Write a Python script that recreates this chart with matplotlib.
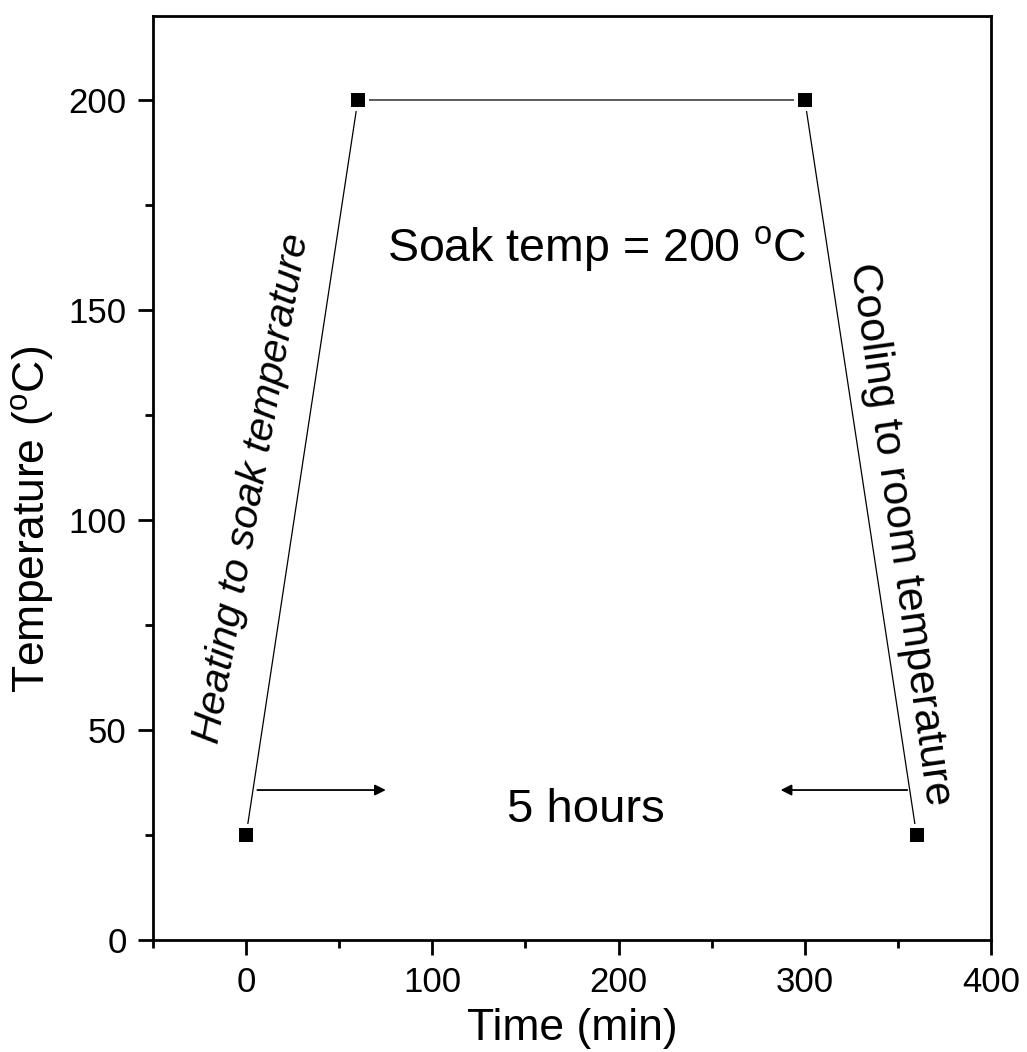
import numpy as np
import matplotlib.pyplot as plt
from matplotlib.ticker import MultipleLocator

plt.rcParams['font.family'] = ['Liberation Sans', 'DejaVu Sans']
plt.rcParams['mathtext.fontset'] = 'custom'
plt.rcParams['mathtext.rm'] = 'Liberation Sans'
plt.rcParams['mathtext.it'] = 'Liberation Sans:italic'

# Heat treatment profile
time_min = [0, 60, 300, 360]
temp_c = [25, 200, 200, 25]

x_ticks = [0, 100, 200, 300, 400]
y_ticks = [0, 50, 100, 150, 200]

fig = plt.figure(figsize=(10.27, 10.52), dpi=100)
ax = fig.add_axes([0.149, 0.1065, 0.816, 0.8783])

# line with small gap around the square markers (Origin style)
ax.plot(time_min, temp_c, color='black', lw=0.9, zorder=2)
ax.plot(time_min, temp_c, ls='none', marker='s', ms=13, mfc='black',
        mec='white', mew=2.9, zorder=3)

# annotations
ax.annotate('', xy=(75, 35.7), xytext=(6, 35.7),
            arrowprops=dict(arrowstyle='-|>', color='black', lw=1.3,
                            mutation_scale=16, shrinkA=0, shrinkB=0))
ax.annotate('', xy=(287, 35.7), xytext=(355, 35.7),
            arrowprops=dict(arrowstyle='-|>', color='black', lw=1.3,
                            mutation_scale=16, shrinkA=0, shrinkB=0))
ax.text(182.5, 31.0, '5 hours', fontsize=34, ha='center', va='center')
ax.text(188.5, 164.5, r'Soak temp = 200 $^{\rm o}$C', fontsize=33.5,
        ha='center', va='center')
ax.text(3, 107.5, 'Heating to soak temperature', fontsize=29.5, style='italic',
        rotation=80, ha='center', va='center', rotation_mode='anchor')
ax.text(351, 96.5, 'Cooling to room temperature', fontsize=31,
        rotation=-82, ha='center', va='center', rotation_mode='anchor')

ax.set_xlim(-50, 400)
ax.set_ylim(0, 220)
ax.set_xticks(x_ticks)
ax.set_yticks(y_ticks)
ax.xaxis.set_minor_locator(MultipleLocator(50))
ax.yaxis.set_minor_locator(MultipleLocator(25))
ax.tick_params(which='both', direction='out', top=False, right=False,
               width=2, labelsize=25, pad=8)
ax.tick_params(which='major', length=11)
ax.tick_params(which='minor', length=5.5)
for s in ax.spines.values():
    s.set_linewidth(2)

ax.set_xlabel('Time (min)', fontsize=32, labelpad=6)
ax.set_ylabel(r'Temperature ($^{\rm o}$C)', fontsize=32)
ax.yaxis.set_label_coords(-0.1158, 0.4556)

fig.savefig('out.png', dpi=100)
